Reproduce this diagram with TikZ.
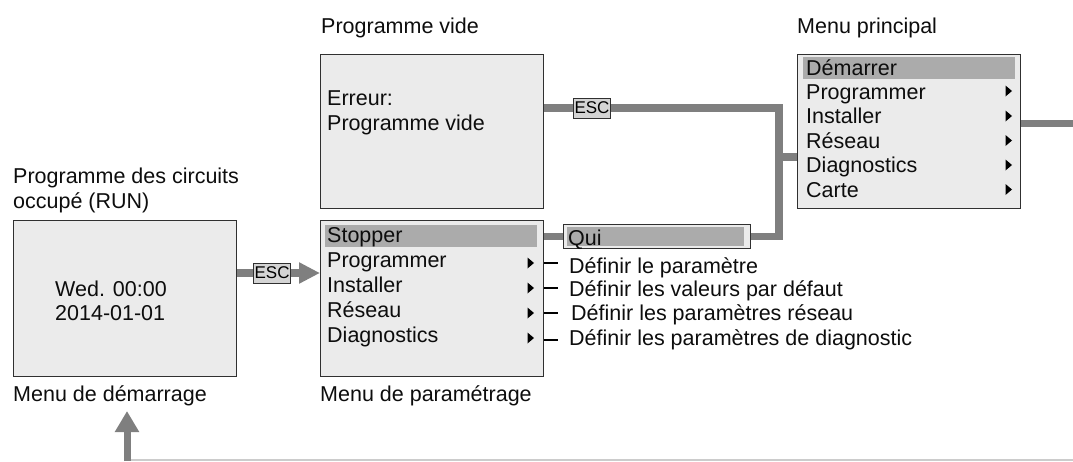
\documentclass[tikz,border=0pt]{standalone}
\usepackage{fontspec}
\setmainfont{Liberation Sans}
\usetikzlibrary{arrows.meta}
\definecolor{panelfill}{HTML}{EBEBEB}
\definecolor{barfill}{HTML}{ABABAB}
\definecolor{connc}{HTML}{7F7F7F}
\definecolor{escfill}{HTML}{D4D4D4}
\definecolor{edge}{HTML}{303030}
\begin{document}
\begin{tikzpicture}[x=1pt,y=-1pt,
  txt/.style={anchor=base west,inner sep=0pt,font=\fontsize{21.5}{24.7}\selectfont,text=black!95},
  panel/.style={draw=edge,line width=1.4pt,fill=panelfill,anchor=north west,inner sep=0pt,minimum width=223pt,minimum height=156pt},
  bar/.style={fill=barfill,anchor=north west,inner sep=0pt,minimum width=212pt,minimum height=22pt},
  conn/.style={draw=connc,line width=7.5pt},
  esclabel/.style={draw=edge,line width=1pt,fill=escfill,inner sep=0pt,minimum width=37pt,minimum height=20pt,font=\fontsize{17}{18}\selectfont},
  tri/.style={fill=black},
  tick/.style={draw=black,line width=1.3pt},
  faint/.style={draw=black!20,line width=1.5pt}
]
\useasboundingbox (0,0) rectangle (1073,461);

% titles
\node[txt] (t1a) at (13,183) {Programme des circuits};
\node[txt] (t1b) at (13,208) {occupé (RUN)};
\node[txt] (t2) at (321,33) {Programme vide};
\node[txt] (t3) at (797,33) {Menu principal};
\node[txt] (t4) at (13,401) {Menu de démarrage};
\node[txt] (t5) at (320,401) {Menu de paramétrage};

% panels
\node[panel] (lb) at (13,220) {};
\node[panel,minimum height=154pt] (pv) at (320,54) {};
\node[panel] (pm) at (320,220) {};
\node[panel,minimum height=154pt] (mp) at (797,54) {};

% start menu
\node[txt] (w1) at (55,296) {Wed. 00:00};
\node[txt] (w2) at (55,320) {2014-01-01};

% empty program
\node[txt] (e1) at (327,105) {Erreur:};
\node[txt] (e2) at (327,130) {Programme vide};

% parameter menu
\node[bar] (pbar) at (325,225) {};
\node[txt] (p1) at (327,242) {Stopper};
\node[txt] (p2) at (327,267) {Programmer};
\node[txt] (p3) at (327,292) {Installer};
\node[txt] (p4) at (327,317) {Réseau};
\node[txt] (p5) at (327,342) {Diagnostics};
\foreach \yy in {263,288,313,338}{
  \fill[tri] (527.5,\yy-5.5) -- (534,\yy) -- (527.5,\yy+5.5) -- cycle;
}

% main menu
\node[bar] (mbar) at (803,57) {};
\node[txt] (m1) at (806,75) {Démarrer};
\node[txt] (m2) at (806,99) {Programmer};
\node[txt] (m3) at (806,123.5) {Installer};
\node[txt] (m4) at (806,148) {Réseau};
\node[txt] (m5) at (806,172.5) {Diagnostics};
\node[txt] (m6) at (806,197) {Carte};
\foreach \yy in {91,116,140.5,165,189.5}{
  \fill[tri] (1005.5,\yy-5.5) -- (1012,\yy) -- (1005.5,\yy+5.5) -- cycle;
}

% Qui box
\node[draw=edge,line width=1.2pt,fill=panelfill,anchor=north west,inner sep=0pt,minimum width=187pt,minimum height=24pt] (qui) at (563,224) {};
\node[fill=barfill,anchor=north west,inner sep=0pt,minimum width=177pt,minimum height=19pt] (quibar) at (567,227) {};
\node[txt] (quit) at (568,245) {Qui};

% parameter descriptions
\node[txt] (d1) at (569,273) {Définir le paramètre};
\node[txt] (d2) at (569,296) {Définir les valeurs par défaut};
\node[txt] (d3) at (571,320) {Définir les paramètres réseau};
\node[txt] (d4) at (569,345) {Définir les paramètres de diagnostic};
\draw[tick] (pm.east |- 0,263) -- (558,263);
\draw[tick] (pm.east |- 0,288) -- (558,288);
\draw[tick] (pm.east |- 0,313) -- (558,313);
\draw[tick] (pm.east |- 0,340) -- (558,340);

% connectors
\coordinate (jn) at (779,108);
\draw[conn,-{Triangle[length=21pt,width=20pt]}] (lb.east |- 0,273) -- (pm.west |- 0,273)
  node[esclabel,pos=0.42] (esc1) {ESC};
\draw[conn] (pv.east |- jn) -- (jn) -- (jn |- qui.east) -- (qui.east);
\node[esclabel] (esc2) at (592,108) {ESC};
\draw[conn] (jn |- 0,157) -- (mp.west |- 0,157);
\draw[conn] (pm.east |- qui.west) -- (qui.west);
\coordinate (mpout) at (1073,123.5);
\draw[conn] (mp.east |- mpout) -- (mpout);

% return arrow
\coordinate (ret) at (127,461);
\coordinate (retend) at (1073,460);
\draw[faint] (127,460) -- (retend);
\draw[conn,line width=7pt,-{Triangle[length=21pt,width=23pt]}] (ret) -- (127,411);
\end{tikzpicture}
\end{document}
